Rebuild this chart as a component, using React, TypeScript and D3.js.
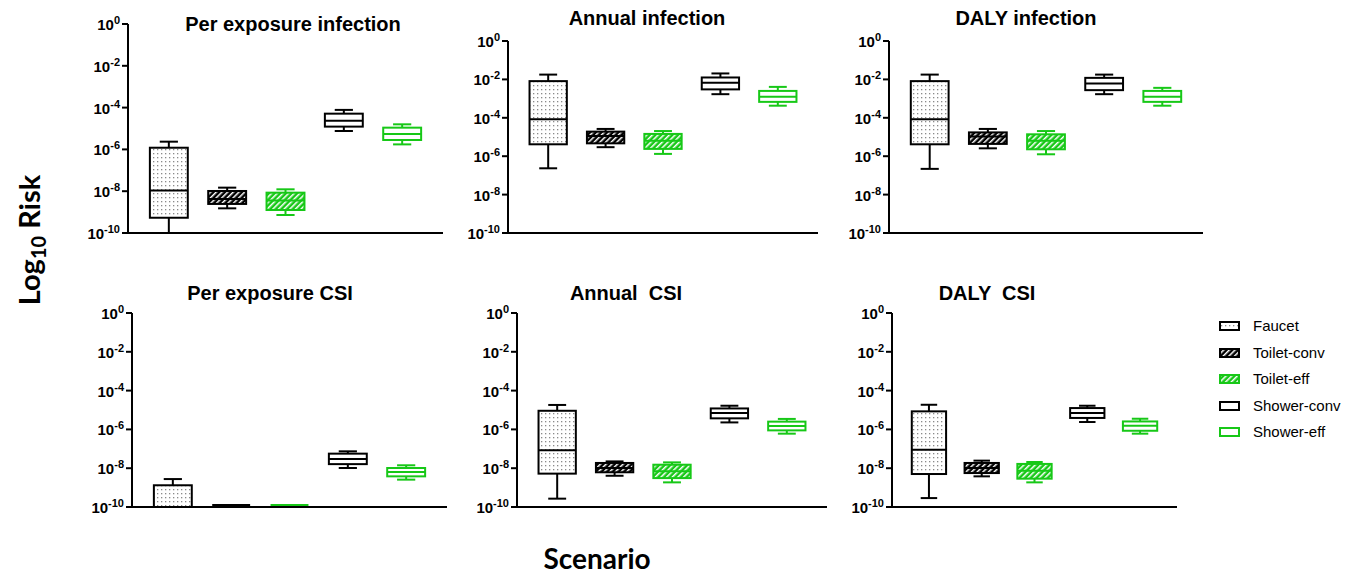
import React from "react";
import * as d3 from "d3";

// ---------- DATA (log10 exponents: [min, q1, median, q3, max]) ----------
const scenarios = ["Faucet", "Toilet-conv", "Toilet-eff", "Shower-conv", "Shower-eff"];
const tickExponents = [0, -2, -4, -6, -8, -10];

const perExposureInfection = [
  [-10, -9.27, -7.97, -5.92, -5.63],
  [-8.82, -8.61, -8.37, -7.99, -7.83],
  [-9.14, -8.9, -8.45, -8.07, -7.91],
  [-5.12, -4.91, -4.63, -4.29, -4.11],
  [-5.76, -5.55, -5.26, -4.96, -4.8],
];
const annualInfection = [
  [-6.63, -5.38, -4.08, -2.09, -1.75],
  [-5.53, -5.33, -4.95, -4.72, -4.58],
  [-5.88, -5.62, -5.19, -4.84, -4.69],
  [-2.77, -2.52, -2.18, -1.9, -1.69],
  [-3.37, -3.17, -2.91, -2.6, -2.39],
];
const dalyInfection = [
  [-6.66, -5.38, -4.08, -2.09, -1.75],
  [-5.59, -5.36, -4.98, -4.76, -4.58],
  [-5.9, -5.64, -5.19, -4.86, -4.69],
  [-2.77, -2.56, -2.21, -1.92, -1.75],
  [-3.37, -3.17, -2.91, -2.6, -2.44],
];
const perExposureCSI = [
  [-10, -10, -10, -8.88, -8.56],
  [-9.9, -9.9, -9.9, -9.9, -9.9],
  [-9.9, -9.9, -9.9, -9.9, -9.9],
  [-7.99, -7.79, -7.53, -7.25, -7.13],
  [-8.59, -8.42, -8.2, -7.99, -7.85],
];
const annualCSI = [
  [-9.57, -8.28, -7.08, -5.04, -4.74],
  [-8.39, -8.21, -7.99, -7.73, -7.65],
  [-8.73, -8.51, -8.16, -7.82, -7.7],
  [-5.64, -5.43, -5.15, -4.92, -4.78],
  [-6.22, -6.05, -5.82, -5.6, -5.46],
];
const dalyCSI = [
  [-9.54, -8.3, -7.05, -5.07, -4.73],
  [-8.42, -8.25, -7.99, -7.73, -7.61],
  [-8.73, -8.54, -8.13, -7.78, -7.68],
  [-5.62, -5.41, -5.15, -4.9, -4.78],
  [-6.22, -6.07, -5.81, -5.59, -5.45],
];

const titles = [
  "Per exposure infection",
  "Annual infection",
  "DALY infection",
  "Per exposure CSI",
  "Annual  CSI",
  "DALY  CSI",
];
const panelData = [perExposureInfection, annualInfection, dalyInfection, perExposureCSI, annualCSI, dalyCSI];

// ---------- LAYOUT ----------
const layout = [
  { x0: 128, x1: 443, yTop: 24, yBot: 233, tx: 293, ty: 31 },
  { x0: 508, x1: 818, yTop: 41, yBot: 233, tx: 647, ty: 25 },
  { x0: 889, x1: 1203, yTop: 41, yBot: 233, tx: 1026, ty: 25 },
  { x0: 132, x1: 447, yTop: 313, yBot: 507, tx: 270, ty: 300 },
  { x0: 517, x1: 827, yTop: 313, yBot: 507, tx: 626, ty: 300 },
  { x0: 892, x1: 1177, yTop: 313, yBot: 507, tx: 987, ty: 300 },
];

const GREEN = "#17c817";
const colors = ["#000", "#000", GREEN, "#000", GREEN];
const fills = ["url(#dots)", "url(#hatchBlack)", "url(#hatchGreen)", "#fff", "#fff"];
const ARIAL = "'Liberation Sans', Arial, sans-serif";
const CAL = "Lato, 'Open Sans', sans-serif";

function Panel({ idx }: { idx: number }) {
  const L = layout[idx];
  const data = panelData[idx];
  const y = d3.scaleLog().domain([1e-10, 1]).range([L.yBot, L.yTop]);
  const x = d3.scalePoint<string>().domain(scenarios).range([L.x0, L.x1]).padding(0.7);
  const bw = x.step() * 0.65;
  const cap = bw * 0.48;
  const v = (e: number) => y(Math.pow(10, e));
  return (
    <g>
      <text x={L.tx} y={L.ty} textAnchor="middle" fontFamily={ARIAL} fontWeight="bold" fontSize={20} fill="#000" style={{ whiteSpace: "pre" }}>
        {titles[idx]}
      </text>
      {data.map((d, i) => {
        const cx = x(scenarios[i]) as number;
        const c = colors[i];
        const [mn, q1, md, q3, mx] = d.map(v);
        return (
          <g key={i} stroke={c} strokeWidth={2} fill="none">
            <line x1={cx} x2={cx} y1={mx} y2={q3} />
            <line x1={cx} x2={cx} y1={q1} y2={mn} />
            <line x1={cx - cap / 2} x2={cx + cap / 2} y1={mx} y2={mx} />
            <line x1={cx - cap / 2} x2={cx + cap / 2} y1={mn} y2={mn} />
            <rect x={cx - bw / 2} y={q3} width={bw} height={Math.max(0, q1 - q3)} fill={fills[i]} />
            <line x1={cx - bw / 2} x2={cx + bw / 2} y1={md} y2={md} />
          </g>
        );
      })}
      <g stroke="#000" strokeWidth={2}>
        <line x1={L.x0} x2={L.x0} y1={L.yTop} y2={L.yBot + 1} />
        <line x1={L.x0 - 1} x2={L.x1} y1={L.yBot} y2={L.yBot} />
        {tickExponents.map((t) => (
          <line key={t} x1={L.x0 - 6} x2={L.x0} y1={v(t)} y2={v(t)} />
        ))}
      </g>
      {tickExponents.map((t) => (
        <text key={t} x={L.x0 - 8} y={v(t) + 6} textAnchor="end" fontFamily={ARIAL} fontWeight="bold" fontSize={15} fill="#000">
          10
          <tspan fontSize={11} dy={-6}>
            {t === 0 ? "0" : String(t)}
          </tspan>
        </text>
      ))}
    </g>
  );
}

export default function App() {
  const legendY = [326, 353, 379, 406, 432];
  return (
    <svg width={1350} height={576} style={{ position: "absolute", left: 0, top: 0, background: "#fff" }}>
      <defs>
        <pattern id="dots" width={4} height={4} patternUnits="userSpaceOnUse">
          <rect width={4} height={4} fill="#fff" />
          <rect x={1} y={1} width={1.3} height={1.3} fill="#8a8a8a" />
        </pattern>
        <pattern id="hatchBlack" width={4} height={4} patternUnits="userSpaceOnUse" patternTransform="rotate(45)">
          <rect width={4} height={4} fill="#000" />
          <rect x={0} y={0} width={1.5} height={4} fill="#fff" />
        </pattern>
        <pattern id="hatchGreen" width={4} height={4} patternUnits="userSpaceOnUse" patternTransform="rotate(45)">
          <rect width={4} height={4} fill={GREEN} />
          <rect x={0} y={0} width={1.5} height={4} fill="#fff" />
        </pattern>
      </defs>
      {layout.map((_, i) => (
        <Panel key={i} idx={i} />
      ))}
      <text transform="translate(40,240) rotate(-90)" textAnchor="middle" fontFamily={CAL} fontWeight="bold" fontSize={29} fill="#000">
        Log
        <tspan fontSize={20} dy={6}>10</tspan>
        <tspan dy={-6}> Risk</tspan>
      </text>
      <text x={597} y={569} textAnchor="middle" fontFamily={CAL} fontWeight="bold" fontSize={28} fill="#000">
        Scenario
      </text>
      {scenarios.map((s, i) => (
        <g key={s}>
          <rect x={1220} y={legendY[i] - 4} width={19} height={8} fill={fills[i]} stroke={colors[i]} strokeWidth={2} />
          <text x={1253} y={legendY[i] + 5} fontFamily={ARIAL} fontSize={15} fill="#000">
            {s}
          </text>
        </g>
      ))}
    </svg>
  );
}
